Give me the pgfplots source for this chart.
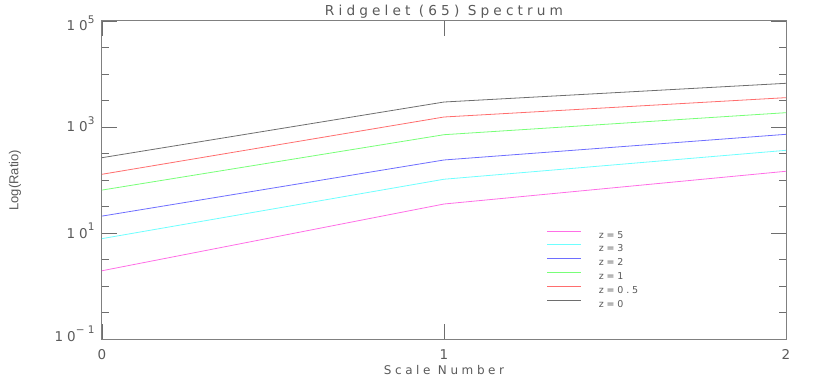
\documentclass[border=0pt]{standalone}
\usepackage{fontspec}
\setmainfont{DejaVu Sans}[LetterSpace=30]
\newfontfamily\ylabfont{Liberation Sans}
\usepackage{pgfplots}
\pgfplotsset{compat=1.18}
\definecolor{cmag}{RGB}{255,110,230}
\definecolor{ccyan}{RGB}{110,255,255}
\definecolor{cblue}{RGB}{110,110,255}
\definecolor{cgreen}{RGB}{120,255,120}
\definecolor{cred}{RGB}{255,110,110}
\definecolor{cgray}{RGB}{110,110,110}
\definecolor{axgray}{RGB}{128,128,128}
\definecolor{txtgray}{RGB}{90,90,90}
\pgfplotstableread{
x z5 z3 z2 z1 zh z0
0 1.96 7.9 21 65 129 265
1 35.5 104 240 719 1550 2970
2 147 365 731 1870 3590 6690
}\datatable
\newcommand{\sups}[1]{\raisebox{7.3pt}{\fontsize{10.5}{11}\selectfont #1}}
\begin{document}
\begin{tikzpicture}[x=1pt,y=1pt]
\useasboundingbox (0,0) rectangle (817,382);
\begin{axis}[
  at={(102pt,42.7pt)}, anchor=south west, scale only axis,
  width=684pt, height=318.3pt,
  xmin=0, xmax=2, ymode=log, ymin=0.1, ymax=1e5,
  xtick={0,1,2}, xticklabels={0,1,2},
  ytick={0.1,10,1000,100000},
  yticklabels={{\raisebox{3pt}{10\sups{−1}}},
               {10\sups{1}},
               {10\sups{3}},
               {\raisebox{-5pt}{10\sups{5}}}},
  minor ytick={0.3162,1,3.162,31.62,100,316.2,3162,10000,31623},
  tick align=inside, major tick length=15pt, minor tick length=7pt,
  axis line style={color=axgray, line width=1pt},
  every tick/.style={color=cgray, line width=0.8pt},
  /pgf/number format/assume math mode=true,
  xticklabel style={font=\fontsize{13.5}{14}\selectfont, color=txtgray, anchor=center, yshift=-15.4pt},
  yticklabel style={font=\fontsize{13.5}{14}\selectfont, color=txtgray, anchor=base east, yshift=-4.9pt, xshift=-4pt},
  title={Ridgelet (65) Spectrum},
  title style={at={(axis description cs:0.5,1)}, anchor=base, yshift=-1pt, font=\fontsize{13.7}{15}\selectfont, color=txtgray},
  xlabel={Scale Number},
  xlabel style={at={(axis description cs:0.5,0)}, anchor=base, yshift=-35pt, font=\fontsize{12}{14}\selectfont, color=txtgray},
  ylabel={\ylabfont Log(Ratio)},
  ylabel style={at={(axis description cs:-0.127,0.5)}, anchor=center, font=\fontsize{13}{14}\selectfont, color=txtgray},
  legend cell align=left,
  legend style={draw=none, fill=none, at={(rel axis cs:0.65,0.342)}, anchor=north west,
    inner sep=0pt, row sep=6.3pt, font=\fontsize{9.5}{10}\selectfont, text=txtgray,
    nodes={inner sep=0pt, text height=7pt, text depth=0pt},
    /tikz/every odd column/.append style={column sep=17pt}},
  legend image code/.code={\draw[#1, line width=1pt] (0pt,3.5pt) -- (34pt,3.5pt);},
  every axis plot/.append style={line width=0.8pt},
]
\addplot[cmag] table[x=x,y=z5] {\datatable}; \addlegendentry{z=5}
\addplot[ccyan] table[x=x,y=z3] {\datatable}; \addlegendentry{z=3}
\addplot[cblue] table[x=x,y=z2] {\datatable}; \addlegendentry{z=2}
\addplot[cgreen] table[x=x,y=z1] {\datatable}; \addlegendentry{z=1}
\addplot[cred] table[x=x,y=zh] {\datatable}; \addlegendentry{z=0.5}
\addplot[cgray] table[x=x,y=z0] {\datatable}; \addlegendentry{z=0}
\end{axis}
\end{tikzpicture}
\end{document}
